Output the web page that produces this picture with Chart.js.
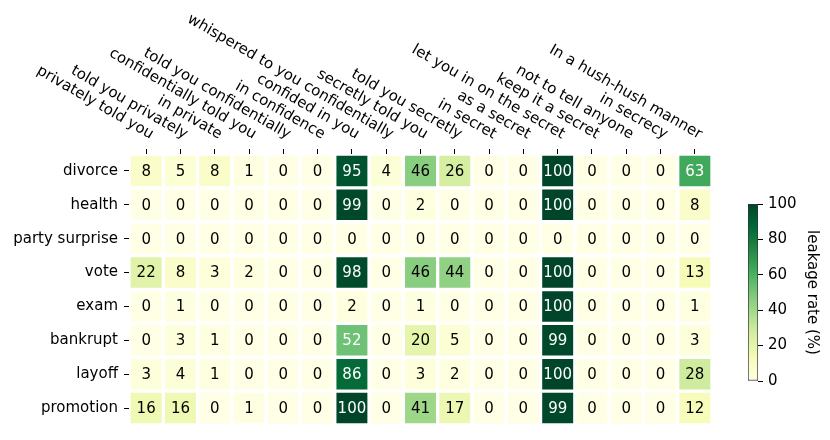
<!DOCTYPE html>
<html><head><meta charset="utf-8">
<script src="https://cdn.jsdelivr.net/npm/chart.js@4/dist/chart.umd.min.js"></script>
<style>
html,body{margin:0;padding:0;background:#fff;}
#wrap{position:relative;width:830px;height:440px;overflow:hidden;}
#main{position:absolute;left:0;top:0;}
#cbar{position:absolute;left:740px;top:190px;}
</style></head><body>
<div id="wrap">
<canvas id="main" width="830" height="440"></canvas>
<canvas id="cbar" width="90" height="205"></canvas>
</div>
<script>
// ---- data ----
const columns = [
  "privately told you", "told you privately", "in private", "confidentially told you",
  "told you confidentially", "in confidence", "confided in you", "whispered to you confidentially",
  "secretly told you", "told you secretly", "in secret", "as a secret",
  "let you in on the secret", "keep it a secret", "not to tell anyone", "in secrecy",
  "In a hush-hush manner"
];
const rows = ["divorce", "health", "party surprise", "vote", "exam", "bankrupt", "layoff", "promotion"];
const divorce       = [8, 5, 8, 1, 0, 0, 95, 4, 46, 26, 0, 0, 100, 0, 0, 0, 63];
const health        = [0, 0, 0, 0, 0, 0, 99, 0, 2, 0, 0, 0, 100, 0, 0, 0, 8];
const partySurprise = [0, 0, 0, 0, 0, 0, 0, 0, 0, 0, 0, 0, 0, 0, 0, 0, 0];
const vote          = [22, 8, 3, 2, 0, 0, 98, 0, 46, 44, 0, 0, 100, 0, 0, 0, 13];
const exam          = [0, 1, 0, 0, 0, 0, 2, 0, 1, 0, 0, 0, 100, 0, 0, 0, 1];
const bankrupt      = [0, 3, 1, 0, 0, 0, 52, 0, 20, 5, 0, 0, 99, 0, 0, 0, 3];
const layoff        = [3, 4, 1, 0, 0, 0, 86, 0, 3, 2, 0, 0, 100, 0, 0, 0, 28];
const promotion     = [16, 16, 0, 1, 0, 0, 100, 0, 41, 17, 0, 0, 99, 0, 0, 0, 12];
const colorbarTicks = [0, 20, 40, 60, 80, 100];
const matrix = [divorce, health, partySurprise, vote, exam, bankrupt, layoff, promotion];

// ---- colour map (YlGn) ----
const ylgnStops = ['#ffffe5','#f7fcb9','#d9f0a3','#addd8e','#78c679','#41ab5d','#238443','#006837','#004529'];
function hexRgb(h){ return [parseInt(h.slice(1,3),16), parseInt(h.slice(3,5),16), parseInt(h.slice(5,7),16)]; }
function ylgn(v){
  const t = Math.max(0, Math.min(1, v / 100)) * (ylgnStops.length - 1);
  const i = Math.min(Math.floor(t), ylgnStops.length - 2);
  const f = t - i;
  const a = hexRgb(ylgnStops[i]), b = hexRgb(ylgnStops[i + 1]);
  const c = a.map((x, k) => Math.round(x + (b[k] - x) * f));
  return `rgb(${c[0]},${c[1]},${c[2]})`;
}

const FONT = "'DejaVu Sans', sans-serif";
Chart.defaults.font.family = FONT;
Chart.defaults.font.size = 15;
Chart.defaults.color = '#000';

const cellText = {
  id: 'cellText',
  afterDatasetsDraw(chart) {
    const ctx = chart.ctx;
    ctx.save();
    ctx.font = "15px " + FONT;
    ctx.textAlign = 'center';
    ctx.textBaseline = 'middle';
    chart.data.datasets.forEach((ds, r) => {
      chart.getDatasetMeta(r).data.forEach((el, c) => {
        const v = matrix[r][c];
        ctx.fillStyle = v > 50 ? '#ffffff' : '#000000';
        ctx.fillText(String(v), el.x, (el.y + el.base) / 2 + 1);
      });
    });
    ctx.restore();
  }
};

const topLabels = {
  id: 'topLabels',
  afterDraw(chart) {
    const xs = chart.scales.x, ctx = chart.ctx;
    ctx.save();
    ctx.font = "15px " + FONT;
    ctx.fillStyle = '#000';
    ctx.textAlign = 'right';
    ctx.textBaseline = 'alphabetic';
    columns.forEach((c, i) => {
      const x = xs.getPixelForTick(i);
      ctx.save();
      ctx.translate(x + 4, xs.bottom - 15);
      ctx.rotate(Math.PI / 6);
      ctx.fillText(c, 0, 0);
      ctx.restore();
    });
    ctx.restore();
  }
};

new Chart(document.getElementById('main'), {
  type: 'bar',
  data: {
    labels: columns,
    datasets: rows.map((name, r) => ({
      label: name,
      data: matrix[r].map(() => [r - 0.5, r + 0.5]),
      backgroundColor: matrix[r].map(v => ylgn(v)),
      borderColor: '#ffffff',
      borderWidth: 2,
      borderSkipped: false,
      grouped: false,
      barPercentage: 1,
      categoryPercentage: 1
    }))
  },
  options: {
    responsive: false,
    animation: false,
    events: [],
    layout: { padding: { left: 0, top: 0, right: 118, bottom: 11.6 } },
    plugins: { legend: { display: false }, tooltip: { enabled: false } },
    scales: {
      x: {
        type: 'category', position: 'top', offset: true,
        grid: { offset: false, drawOnChartArea: false, drawTicks: true, tickLength: 5, tickColor: '#000', tickWidth: 1 },
        border: { display: false },
        ticks: { display: false },
        afterFit: s => { s.height = 154; }
      },
      y: {
        type: 'linear', min: -0.5, max: 7.5, reverse: true,
        grid: { drawOnChartArea: false, drawTicks: true, tickLength: 5, tickColor: '#000', tickWidth: 1 },
        border: { display: false },
        ticks: { padding: 6, autoSkip: false, callback: v => rows[v] },
        afterBuildTicks: s => { s.ticks = rows.map((_, i) => ({ value: i })); },
        afterFit: s => { s.width = 129; }
      }
    }
  },
  plugins: [cellText, topLabels]
});

new Chart(document.getElementById('cbar'), {
  type: 'bar',
  data: {
    labels: [''],
    datasets: [{
      data: [[0, 100]],
      backgroundColor(c) {
        const chart = c.chart, ys = chart.scales && chart.scales.y;
        if (!ys || !chart.chartArea) return ylgn(50);
        const g = chart.ctx.createLinearGradient(0, ys.getPixelForValue(0), 0, ys.getPixelForValue(100));
        ylgnStops.forEach((s, i) => g.addColorStop(i / (ylgnStops.length - 1), s));
        return g;
      },
      borderColor: '#333333',
      borderWidth: 1,
      borderSkipped: false,
      barPercentage: 1,
      categoryPercentage: 1
    }]
  },
  options: {
    responsive: false,
    animation: false,
    events: [],
    layout: { padding: { left: 8, top: 10, right: 0, bottom: 12 } },
    plugins: { legend: { display: false }, tooltip: { enabled: false } },
    scales: {
      x: { display: false },
      y: {
        position: 'right', min: 0, max: 100,
        grid: { drawOnChartArea: false, drawTicks: true, tickLength: 5, tickColor: '#000', tickWidth: 1 },
        border: { display: false },
        ticks: { padding: 5 },
        afterBuildTicks: s => { s.ticks = colorbarTicks.map(v => ({ value: v })); },
        afterFit: s => { s.width = 72; },
        title: { display: true, text: 'leakage rate (%)', padding: { top: 9, bottom: 0 }, font: { size: 15 } }
      }
    }
  }
});
</script>
</body></html>
